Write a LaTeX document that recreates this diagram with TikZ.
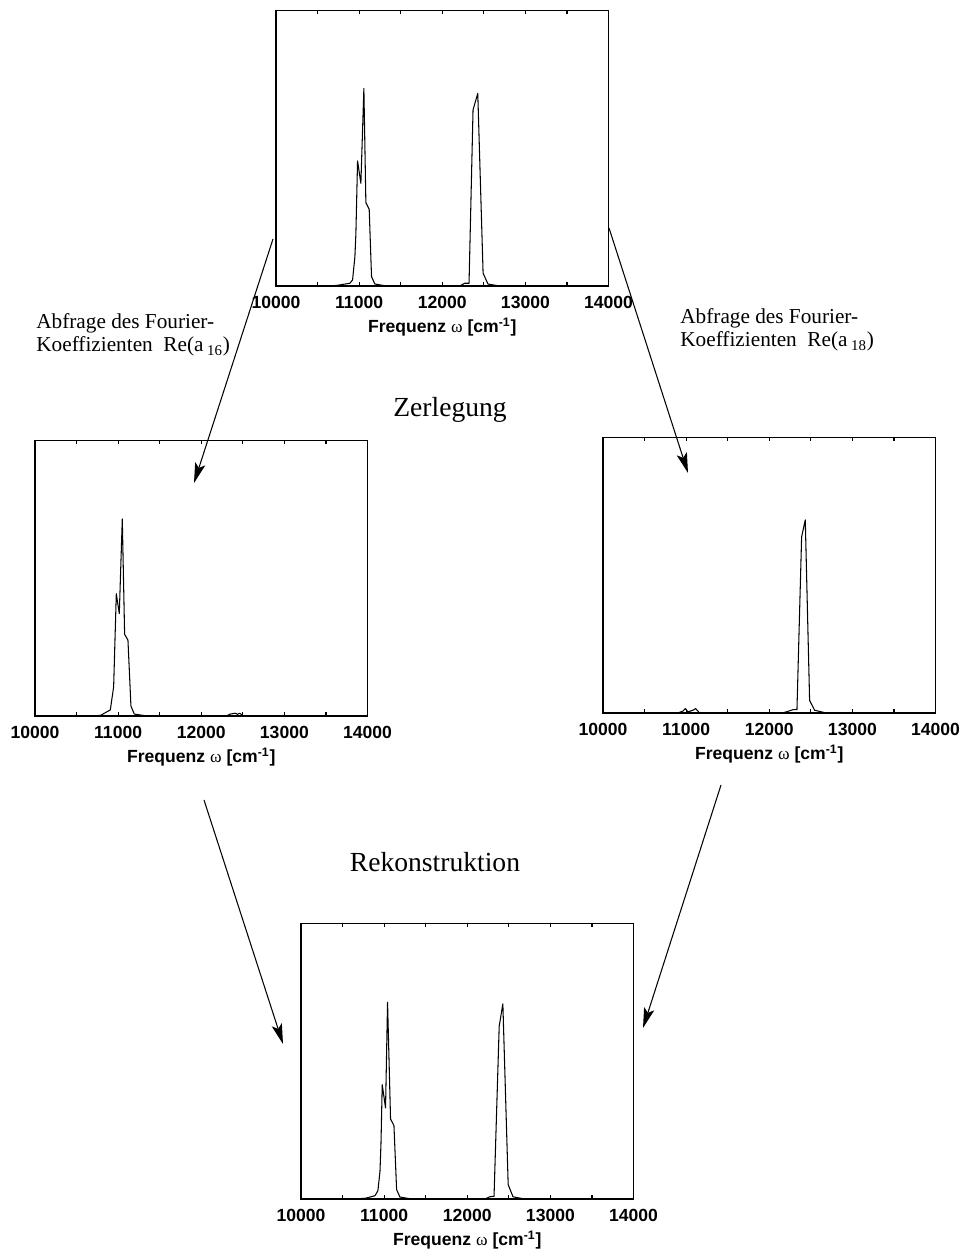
\documentclass[tikz,border=0pt]{standalone}
\usepackage{fontspec}
\setmainfont{Liberation Serif}
\setsansfont{Liberation Sans}
\usetikzlibrary{arrows.meta}

\newcommand\spektrum[3]{% #1 Name, #2 Ecke unten links, #3 Kurve
\begin{scope}[shift={#2}, x=0.001665cm, y=5.52cm]
\path[draw,rahmen] (0,0) rectangle (4000,1);
\foreach \t in {500,1000,...,3500} {
  \path[draw,rahmen] (\t,0) -- (\t,0.014);
  \path[draw,rahmen] (\t,1) -- (\t,0.986);
}
\foreach \t/\l in {0/10000,1000/11000,2000/12000,3000/13000,4000/14000}
  \node[zahl] (#1-\t) at (\t,-0.08) {\l};
\node[achse] (#1-x) at (2000,-0.17) {Frequenz {\rmfamily\mdseries ω} [cm\textsuperscript{-1}]};
\path[draw,kurve] plot coordinates {#3};
\end{scope}}

\begin{document}
\begin{tikzpicture}[x=0.02cm, y=0.02cm,
  rahmen/.style={line width=0.6pt},
  kurve/.style={line width=0.6pt, line join=round},
  zahl/.style={anchor=base, inner sep=0pt, font=\fontsize{10}{12}\selectfont\sffamily\bfseries},
  achse/.style={anchor=base, inner sep=0pt, font=\fontsize{10}{12}\selectfont\sffamily\bfseries},
  notiz/.style={align=left, anchor=base west, inner sep=0pt, font=\fontsize{12.1}{13.6}\selectfont},
  titel/.style={anchor=base, inner sep=0pt, font=\fontsize{15.7}{18}\selectfont},
  pfeil/.style={line width=0.6pt, -{Stealth[length=11.5pt,width=6pt,inset=2.5pt]}}]
\useasboundingbox (0,0) rectangle (964,1253);

% Ausgangsspektrum
\spektrum{oben}{(276,967)}{(0,0) (650,0) (750,0.003) (889,0.01) (921,0.022) (949,0.106) (961,0.19) (981,0.453) (1021,0.372) (1057,0.716) (1081,0.302) (1121,0.278) (1149,0.034) (1189,0.007) (1330,0) (2210,0) (2270,0.01) (2322,0.01) (2370,0.638) (2427,0.698) (2491,0.046) (2550,0.007) (2690,0) (4000,0)}

% Zerlegung
\spektrum{links}{(35,537)}{(0,0) (700,0) (786,0.002) (906,0.022) (946,0.106) (978,0.443) (1014,0.371) (1050,0.714) (1078,0.296) (1118,0.275) (1154,0.036) (1194,0.007) (1347,0) (2300,0) (2349,0.007) (2409,0.01) (2437,0.006) (2461,0.01) (2509,0) (4000,0)}
\spektrum{rechts}{(603,540)}{(0,0) (900,0) (962,0.007) (990,0.016) (1022,0.004) (1082,0.01) (1114,0.016) (1162,0) (2150,0) (2204,0.004) (2285,0.012) (2333,0.012) (2389,0.638) (2433,0.700) (2485,0.046) (2545,0.01) (2685,0) (4000,0)}

% Rekonstruktion
\spektrum{unten}{(301,54)}{(0,0) (650,0) (780,0.003) (890,0.012) (925,0.03) (950,0.1) (962,0.2) (977,0.414) (1017,0.33) (1041,0.713) (1077,0.29) (1118,0.266) (1150,0.034) (1190,0.007) (1330,0) (2210,0) (2270,0.008) (2322,0.01) (2384,0.626) (2428,0.707) (2492,0.052) (2550,0.008) (2690,0) (4000,0)}

\node[notiz] (abfrage16) at (36,901) {Abfrage des Fourier-\\Koeffizienten\ \ Re(a\,\textsubscript{16})};
\node[notiz] (abfrage18) at (680,906) {Abfrage des Fourier-\\Koeffizienten\ \ Re(a\,\textsubscript{18})};
\node[titel] (zerlegung) at (450,836) {Zerlegung};
\node[titel] (rekonstruktion) at (435,381) {Rekonstruktion};

\coordinate (l1) at (273,1014);
\coordinate (l2) at (194,770);
\coordinate (r1) at (609,1025);
\coordinate (r2) at (688,780);
\coordinate (l3) at (204,453);
\coordinate (l4) at (283,209);
\coordinate (r3) at (721,468);
\coordinate (r4) at (643,225);
\path[draw,pfeil] (l1) -- (l2);
\path[draw,pfeil] (r1) -- (r2);
\path[draw,pfeil] (l3) -- (l4);
\path[draw,pfeil] (r3) -- (r4);
\end{tikzpicture}
\end{document}
